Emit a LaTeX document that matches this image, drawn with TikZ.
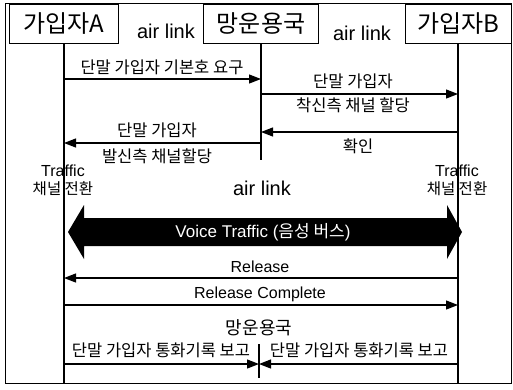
\documentclass[tikz,border=0pt]{standalone}
\usepackage{fontspec}
\setmainfont{Noto Sans CJK KR}
\newfontfamily\lat{Liberation Sans}
\usetikzlibrary{arrows.meta}

\tikzset{
	ent/.style={draw, line width=0.8pt, minimum height=39pt, font=\fontsize{24}{24}\selectfont},
	life/.style={line width=1.2pt},
	msg/.style={line width=1.2pt, -{Triangle[length=12pt,width=9pt]}},
	lbl/.style={font=\fontsize{16.5}{16.5}\selectfont, inner sep=1pt},
	lnk/.style={font=\lat\fontsize{20}{20}\selectfont, inner sep=1pt},
	chg/.style={align=center, inner sep=1pt, font=\fontsize{15.5}{18}\selectfont}
}

\begin{document}
\begin{tikzpicture}[x=1pt,y=-1pt]
	\useasboundingbox (0,0) rectangle (513,389);
	\draw[line width=0.6pt] (5,3) rectangle (511,383);
	
	% entities
	\node[ent, minimum width=109pt] (ua) at (64,23.5) {가입자A};
	\node[ent, minimum width=115pt] (op) at (261,23.5) {망운용국};
	\node[ent, minimum width=106pt] (ub) at (458,23.5) {가입자B};
	\node[lnk] (l1) at (166,31) {air link};
	\node[lnk] (l2) at (362,33) {air link};
	
	\draw[life] (ua.south) -- (ua |- 0,383);
	\draw[life] (ub.south) -- (ub |- 0,383);
	\draw[life] (op.south) -- (op |- 0,160);
	
	% call setup
	\draw[msg] (ua |- 0,79) -- (op |- 0,79);
	\node[lbl] (m1) at (162,67) {단말 가입자 기본호 요구};
	\draw[msg] (op |- 0,94) -- (ub |- 0,94);
	\node[lbl] (m2a) at (353,81) {단말 가입자};
	\node[lbl] (m2b) at (353,105) {착신측 채널 할당};
	\draw[msg] (ub |- 0,132) -- (op |- 0,132);
	\node[lbl] (m3) at (358,146) {확인};
	\draw[msg] (op |- 0,143) -- (ua |- 0,143);
	\node[lbl] (m4a) at (157,130) {단말 가입자};
	\node[lbl] (m4b) at (157,156) {발신측 채널할당};
	
	\node[chg] (ta) at (63,180) {{\lat\fontsize{16}{18}\selectfont Traffic}\\채널 전환};
	\node[chg] (tb) at (457,180) {{\lat\fontsize{16}{18}\selectfont Traffic}\\채널 전환};
	\node[lnk] (l3) at (262,188) {air link};
	
	% voice path
	\fill (68,232) -- (84,205) -- (84,218) -- (447,218) -- (447,205) -- (462,232)
		-- (447,259) -- (447,246) -- (84,246) -- (84,259) -- cycle;
	\node[lbl, text=white, font=\fontsize{17}{17}\selectfont] (vt) at (263,232) {{\lat Voice Traffic (}음성 버스{\lat )}};
	
	% release
	\draw[msg] (ub |- 0,278) -- (ua |- 0,278);
	\node[lbl, font=\lat\fontsize{16}{16}\selectfont] (rel) at (260,267) {Release};
	\draw[msg] (ua |- 0,305) -- (ub |- 0,305);
	\node[lbl, font=\lat\fontsize{16}{16}\selectfont] (rc) at (260,294) {Release Complete};
	
	% records
	\node[font=\fontsize{18}{18}\selectfont, inner sep=1pt] (opb) at (259,328) {망운용국};
	\coordinate (tk1) at (259,344);
	\coordinate (tk2) at (259,378);
	\coordinate (mid) at (259,364);
	\draw[life] (tk1) -- (tk2);
	\draw[msg] (ua |- mid) -- (mid);
	\draw[msg] (ub |- mid) -- (mid);
	\node[lbl] (r1) at (161,350) {단말 가입자 통화기록 보고};
	\node[lbl] (r2) at (359,350) {단말 가입자 통화기록 보고};
\end{tikzpicture}
\end{document}
